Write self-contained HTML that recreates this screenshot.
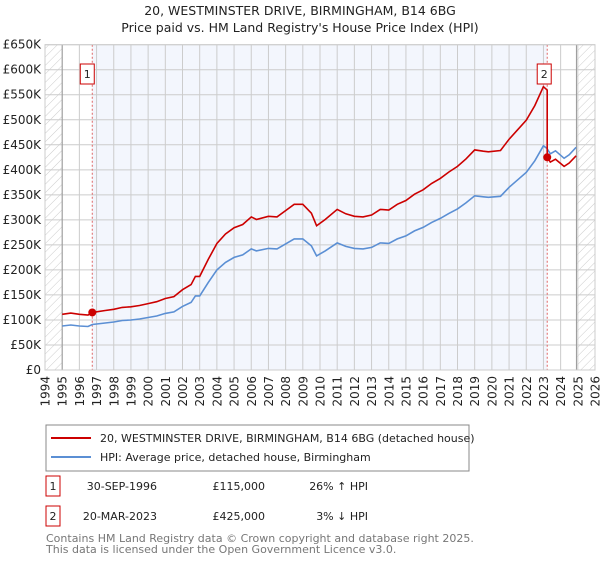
<!DOCTYPE html>
<html><head><meta charset="utf-8"><style>
body{margin:0;background:#fff;font-family:"Liberation Sans","DejaVu Sans",sans-serif;}
svg text{font-family:"DejaVu Sans","Liberation Sans",sans-serif;}
</style></head><body>
<svg id="c" width="600" height="560" xmlns="http://www.w3.org/2000/svg">
<defs><pattern id="h" width="6" height="6" patternUnits="userSpaceOnUse" patternTransform="rotate(45)"><line x1="0" y1="0" x2="0" y2="6" stroke="#ccc" stroke-width="1"/></pattern></defs>
<text x="300" y="15" text-anchor="middle" font-size="12.5" fill="#222">20, WESTMINSTER DRIVE, BIRMINGHAM, B14 6BG</text>
<text x="300" y="32" text-anchor="middle" font-size="12.5" fill="#222">Price paid vs. HM Land Registry's House Price Index (HPI)</text>
<g id="plot"></g>
<g>
<rect x="46" y="425" width="423" height="46" fill="#fff" stroke="#888"/>
<line x1="51" y1="438" x2="91" y2="438" stroke="#cc0000" stroke-width="2"/>
<text x="100" y="442" font-size="11" fill="#222">20, WESTMINSTER DRIVE, BIRMINGHAM, B14 6BG (detached house)</text>
<line x1="51" y1="457" x2="91" y2="457" stroke="#5b8fd4" stroke-width="2"/>
<text x="100" y="461" font-size="11" fill="#222">HPI: Average price, detached house, Birmingham</text>
</g>
<g font-size="11" fill="#222">
<rect x="46" y="476" width="14" height="20" fill="#fff" stroke="#cc0000"/>
<text x="53" y="490" text-anchor="middle">1</text>
<text x="157" y="490" text-anchor="end">30-SEP-1996</text>
<text x="265" y="490" text-anchor="end">£115,000</text>
<text x="368" y="490" text-anchor="end">26% ↑ HPI</text>
<rect x="46" y="506" width="14" height="20" fill="#fff" stroke="#cc0000"/>
<text x="53" y="520" text-anchor="middle">2</text>
<text x="157" y="520" text-anchor="end">20-MAR-2023</text>
<text x="265" y="520" text-anchor="end">£425,000</text>
<text x="368" y="520" text-anchor="end">3% ↓ HPI</text>
</g>
<text x="46" y="542" font-size="11" fill="#777">Contains HM Land Registry data © Crown copyright and database right 2025.</text>
<text x="46" y="553" font-size="11" fill="#777">This data is licensed under the Open Government Licence v3.0.</text>
</svg>
<script>
const hpiYears=[1995,1995.5,1996,1996.5,1996.75,1997,1997.5,1998,1998.5,1999,1999.5,2000,2000.5,2001,2001.5,2002,2002.5,2002.75,2003,2003.5,2004,2004.5,2005,2005.5,2006,2006.3,2007,2007.5,2008,2008.5,2009,2009.5,2009.8,2010.3,2011,2011.5,2012,2012.5,2013,2013.5,2014,2014.5,2015,2015.5,2016,2016.5,2017,2017.5,2018,2018.5,2019,2019.5,2019.8,2020.5,2021,2021.5,2022,2022.5,2023,2023.2,2023.4,2023.7,2024.2,2024.5,2024.9];
const hpiValues=[88,90,88,87,91,92,94,96,99,100,102,105,108,113,116,127,135,148,148,175,200,215,225,230,242,238,243,242,252,262,262,248,228,238,254,247,243,242,245,254,253,262,268,278,285,295,303,313,322,334,348,346,345,347,365,380,395,418,448,443,432,438,423,430,445];
const salesYears=[1996.75,2023.22];
const salesPrices=[115,425];
const yTicks=[0,50,100,150,200,250,300,350,400,450,500,550,600,650];
const xTicks=[1994,1995,1996,1997,1998,1999,2000,2001,2002,2003,2004,2005,2006,2007,2008,2009,2010,2011,2012,2013,2014,2015,2016,2017,2018,2019,2020,2021,2022,2023,2024,2025,2026];
const NS="http://www.w3.org/2000/svg";
const X0=45,X1=595,Y0=370,Y1=44.7;
const xs=t=>X0+(t-1994)/(2026-1994)*(X1-X0);
const ys=v=>Y0-v/650*(Y0-Y1);
const g=document.getElementById('plot');
function mk(tag,attrs){const e=document.createElementNS(NS,tag);for(const k in attrs)e.setAttribute(k,attrs[k]);g.appendChild(e);return e;}
function hpiAt(t){for(let i=0;i<hpiYears.length-1;i++){if(t>=hpiYears[i]&&t<=hpiYears[i+1]){const f=(t-hpiYears[i])/(hpiYears[i+1]-hpiYears[i]);return hpiValues[i]+f*(hpiValues[i+1]-hpiValues[i]);}}return hpiValues[hpiValues.length-1];}
let r=mk('rect',{x:X0,y:Y1,width:X1-X0,height:Y0-Y1,fill:'#fff'});


r=mk('rect',{x:xs(salesYears[0]),y:Y1,width:xs(salesYears[1])-xs(salesYears[0]),height:Y0-Y1,fill:'#f3f6fd'});


r=mk('rect',{x:X0,y:Y1,width:xs(1995)-X0,height:Y0-Y1,fill:'url(#h)'});


r=mk('rect',{x:xs(2024.92),y:Y1,width:X1-xs(2024.92),height:Y0-Y1,fill:'url(#h)'});


yTicks.forEach(v=>{
 const l=mk('line',{x1:X0,x2:X1,y1:ys(v),y2:ys(v),stroke:'#ccc','stroke-width':1});
 
 
 const t=mk('text',{x:X0-4,y:ys(v)+4,'text-anchor':'end','font-size':12,fill:'#222'});
 t.textContent=v===0?'£0':'£'+v+'K';
 
 
});
xTicks.forEach(y=>{
 const l=mk('line',{x1:xs(y),x2:xs(y),y1:Y1,y2:Y0,stroke:'#ccc','stroke-width':1});
 
 
 const t=mk('text',{transform:`translate(${xs(y)+4.5},376) rotate(-90)`,'text-anchor':'end','font-size':12,fill:'#222'});
 t.textContent=y;
 
 
});
let l=mk('line',{x1:xs(1995),x2:xs(1995),y1:Y1,y2:Y0,stroke:'#999'});


l=mk('line',{x1:xs(2024.92),x2:xs(2024.92),y1:Y1,y2:Y0,stroke:'#999'});


salesYears.forEach((t,i)=>{
 const d=mk('line',{x1:xs(t),x2:xs(t),y1:Y1,y2:Y0,stroke:'#e06666','stroke-dasharray':'2,2','stroke-width':1});
 
 
});
// HPI line
let p='';hpiYears.forEach((t,i)=>{p+=(i?'L':'M')+xs(t).toFixed(1)+','+ys(hpiValues[i]).toFixed(1);});
let hp=mk('path',{d:p,fill:'none',stroke:'#5b8fd4','stroke-width':1.6});


// property line indexed on HPI from each sale
const r1=salesPrices[0]/hpiAt(salesYears[0]), r2=salesPrices[1]/hpiAt(salesYears[1]);
let pp='';hpiYears.forEach((t,i)=>{if(t<=salesYears[1]){pp+=(pp?'L':'M')+xs(t).toFixed(1)+','+ys(hpiValues[i]*r1).toFixed(1);}});
pp+='L'+xs(salesYears[1]).toFixed(1)+','+ys(hpiAt(salesYears[1])*r1).toFixed(1);
pp+='L'+xs(salesYears[1]).toFixed(1)+','+ys(salesPrices[1]).toFixed(1);
hpiYears.forEach((t,i)=>{if(t>salesYears[1])pp+='L'+xs(t).toFixed(1)+','+ys(hpiValues[i]*r2).toFixed(1);});
let rp=mk('path',{d:pp,fill:'none',stroke:'#cc0000','stroke-width':1.6});


salesYears.forEach((t,i)=>{
 const c=mk('circle',{cx:xs(t),cy:ys(salesPrices[i]),r:4,fill:'#cc0000'});
 
 
 const bx=mk('rect',{x:xs(t)-7-(i?3:5),y:64,width:14,height:20,fill:'#fff',stroke:'#cc0000'});
 
 
 const tx=mk('text',{x:xs(t)-(i?3:5),y:78,'text-anchor':'middle','font-size':11,fill:'#222'});
 tx.textContent=String(i+1);
 
 
});
const b=mk('rect',{x:X0,y:Y1,width:X1-X0,height:Y0-Y1,fill:'none',stroke:'#ccc'});


</script>
</body></html>
